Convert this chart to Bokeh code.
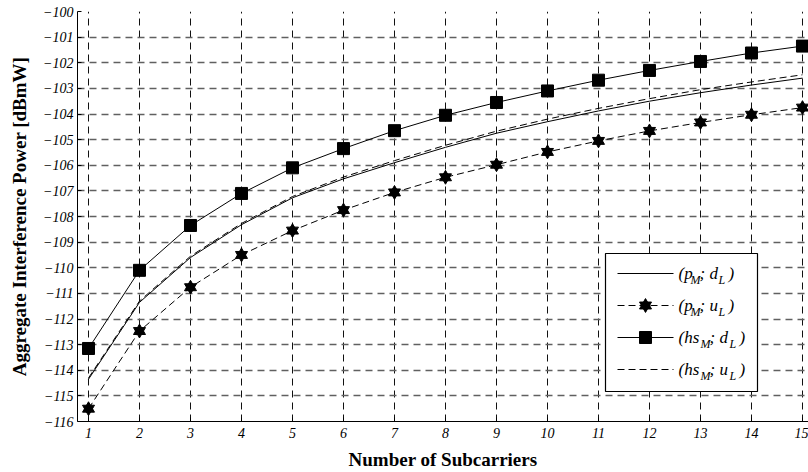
from bokeh.plotting import figure
from bokeh.models import FixedTicker, Range1d
from bokeh.embed import file_html
from bokeh.resources import INLINE
from bokeh.core.properties import value

# ---- data ----
subcarriers = list(range(1, 16))
p_dl = [-114.35, -111.35, -109.6, -108.32, -107.27, -106.53, -105.9, -105.3,
        -104.75, -104.3, -103.88, -103.5, -103.17, -102.87, -102.6]
p_ul = [-115.5, -112.47, -110.76, -109.5, -108.55, -107.75, -107.06, -106.47,
        -105.98, -105.48, -105.05, -104.66, -104.33, -104.03, -103.75]
hs_dl = [-113.15, -110.1, -108.35, -107.1, -106.1, -105.35, -104.65, -104.05,
         -103.55, -103.1, -102.68, -102.3, -101.95, -101.62, -101.35]
hs_ul = [-114.3, -111.3, -109.55, -108.27, -107.22, -106.46, -105.82, -105.22,
         -104.67, -104.2, -103.78, -103.4, -103.05, -102.75, -102.47]
x_ticks = list(range(1, 16))
y_ticks = list(range(-116, -99))
x_label = "Number of Subcarriers"
y_label = "Aggregate Interference Power [dBmW]"
legend_parts = [
    ("(p", "M", "; d", "L", ")"),
    ("(p", "M", "; u", "L", ")"),
    ("(hs", "M", "; d", "L", ")"),
    ("(hs", "M", "; u", "L", ")"),
]

# ---- layout geometry (canvas px) ----
W, H = 808, 472
FL, FT, FR, FB = 77, 11, 808, 421
X0, X1 = 0.7843, 15.118
Y0, Y1 = -116.0, -100.0
FONT = "Liberation Serif"


def px2x(px):
    return X0 + (px - FL) / (FR - FL) * (X1 - X0)


def px2y(py):
    return Y1 - (py - FT) / (FB - FT) * (Y1 - Y0)


p = figure(width=W, height=H, output_backend="svg", toolbar_location=None,
           x_range=Range1d(X0, X1), y_range=Range1d(Y0, Y1),
           min_border_left=FL, min_border_right=W - FR,
           min_border_top=FT, min_border_bottom=H - FB,
           background_fill_color="white", border_fill_color="white")
p.outline_line_color = None

for ax in (p.xaxis, p.yaxis):
    ax.major_tick_in = 4
    ax.major_tick_out = 0
    ax.minor_tick_line_color = None
    ax.axis_line_color = "black"
    ax.major_tick_line_color = "black"
    ax.major_label_text_font = FONT
    ax.major_label_text_font_style = "italic"
    ax.major_label_text_font_size = "14px"
    ax.major_label_text_color = "black"
    ax.axis_label_text_font = FONT
    ax.axis_label_text_font_style = "bold"
    ax.axis_label_text_font_size = "19px"
    ax.axis_label_text_color = "black"

p.xaxis.ticker = FixedTicker(ticks=x_ticks)
p.yaxis.ticker = FixedTicker(ticks=y_ticks)
p.xaxis.axis_label = x_label
p.yaxis.axis_label = y_label
p.xaxis.major_label_standoff = 6
p.yaxis.major_label_standoff = 4
p.xaxis.axis_label_standoff = 8
p.yaxis.axis_label_standoff = 10

p.xgrid.grid_line_color = "#111111"
p.xgrid.grid_line_dash = "7 5"
p.xgrid.grid_line_width = 1
p.ygrid.grid_line_color = "#606060"
p.ygrid.grid_line_dash = "7 5"
p.ygrid.grid_line_width = 1.6

# ---- series ----
p.line(subcarriers, p_dl, line_color="black", line_width=1)
p.line(subcarriers, hs_ul, line_color="black", line_width=1, line_dash="7 4")
p.line(subcarriers, p_ul, line_color="black", line_width=1, line_dash="7 4")
p.scatter(subcarriers, p_ul, marker="triangle", size=12, fill_color="black", line_color="black")
p.scatter(subcarriers, p_ul, marker="inverted_triangle", size=12, fill_color="black", line_color="black")
p.line(subcarriers, hs_dl, line_color="black", line_width=1)
p.scatter(subcarriers, hs_dl, marker="square", size=12, fill_color="black", line_color="black")

# ---- legend (manual, to allow subscripts) ----
p.quad(left=[px2x(605)], right=[px2x(757)], top=[px2y(253)], bottom=[px2y(391)],
       fill_color="white", line_color="black", line_width=1.2)
entry_py = [273, 305, 337, 369]
ey = [px2y(v) for v in entry_py]
lx0, lx1, lxm, tx = px2x(617), px2x(673), px2x(645), px2x(678)
dashes = ["solid", "7 4", "solid", "7 4"]
for i in range(4):
    p.line([lx0, lx1], [ey[i], ey[i]], line_color="black", line_width=1, line_dash=dashes[i])
p.scatter([lxm], [ey[1]], marker="triangle", size=12, fill_color="black", line_color="black")
p.scatter([lxm], [ey[1]], marker="inverted_triangle", size=12, fill_color="black", line_color="black")
p.scatter([lxm], [ey[2]], marker="square", size=12, fill_color="black", line_color="black")

# offsets (px) for: main1, sub1, main2, sub2, main3
offs_p = [0, 12, 21, 40, 50]
offs_hs = [0, 22, 31, 51, 61]
mx, my, mt, mo = [], [], [], []
sx, sy, st, so = [], [], [], []
for i, parts in enumerate(legend_parts):
    offs = offs_p if i < 2 else offs_hs
    for k, (txt, off) in enumerate(zip(parts, offs)):
        if k in (1, 3):
            sx.append(tx); sy.append(ey[i]); st.append(txt); so.append(off)
        else:
            mx.append(tx); my.append(ey[i]); mt.append(txt); mo.append(off)
p.text(x=mx, y=my, text=mt, x_offset=mo, text_font=value(FONT),
       text_font_style="italic", text_font_size="17px", text_color="black",
       text_baseline="middle", text_align="left")
p.text(x=sx, y=sy, text=st, x_offset=so, y_offset=6, text_font=value(FONT),
       text_font_style="italic", text_font_size="12px", text_color="black",
       text_baseline="middle", text_align="left")

open("out.html", "w").write(file_html(p, INLINE))
